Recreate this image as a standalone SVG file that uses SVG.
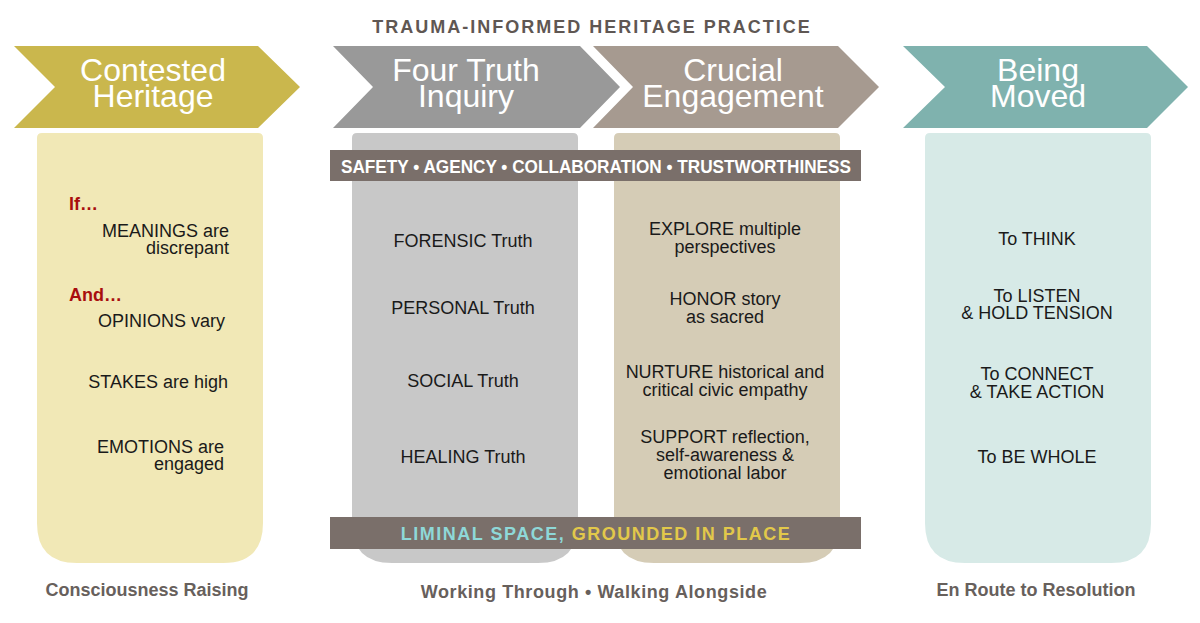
<svg xmlns="http://www.w3.org/2000/svg" width="1200" height="623" viewBox="0 0 1200 623">
<defs>
<style>
.chev-text{font-family:"Liberation Sans",Arial,sans-serif;font-size:32px;fill:#ffffff;text-anchor:middle}
.body{font-family:"Liberation Sans",Arial,sans-serif;font-size:18px;fill:#1a1a1a}
.mid{text-anchor:middle}
.end{text-anchor:end}
.red{font-family:"Liberation Sans",Arial,sans-serif;font-size:18px;font-weight:bold;fill:#a80e0e}
.cap{font-family:"Liberation Sans",Arial,sans-serif;font-size:18px;font-weight:bold;fill:#67605c;text-anchor:middle}
.band{fill:#7a6f6a}
</style>
</defs>
<rect width="1200" height="623" fill="#ffffff"/>
<text x="592" y="33" font-family="Liberation Sans, Arial, sans-serif" font-size="18" font-weight="bold" fill="#5f5753" text-anchor="middle" letter-spacing="2">TRAUMA-INFORMED HERITAGE PRACTICE</text>

<g id="panels">
<path id="panel1" d="M42,133 H258 Q263,133 263,138 V523 Q263,563 223,563 H77 Q37,563 37,523 V138 Q37,133 42,133 Z" fill="#f1e8b6"/>
<path id="panel2" d="M357,133 H573 Q578,133 578,138 V523 Q578,563 538,563 H392 Q352,563 352,523 V138 Q352,133 357,133 Z" fill="#c8c8c8"/>
<path id="panel3" d="M619,133 H835 Q840,133 840,138 V523 Q840,563 800,563 H654 Q614,563 614,523 V138 Q614,133 619,133 Z" fill="#d5ccb6"/>
<path id="panel4" d="M930,133 H1146 Q1151,133 1151,138 V523 Q1151,563 1111,563 H965 Q925,563 925,523 V138 Q925,133 930,133 Z" fill="#d7eae7"/>
</g>

<g id="chevron1">
<polygon points="14,46 258,46 300,87 258,128 14,128 55,87" fill="#cab74d"/>
<text class="chev-text"><tspan x="153" y="81">Contested</tspan><tspan x="153" y="107">Heritage</tspan></text>
</g>
<g id="chevron2">
<polygon points="333,46 580,46 620,87 580,128 333,128 373,87" fill="#999999"/>
<text class="chev-text"><tspan x="466" y="81">Four Truth</tspan><tspan x="466" y="107">Inquiry</tspan></text>
</g>
<g id="chevron3">
<polygon points="593,46 838,46 879,87 838,128 593,128 633,87" fill="#a69a90"/>
<text class="chev-text"><tspan x="733" y="81">Crucial</tspan><tspan x="733" y="107">Engagement</tspan></text>
</g>
<g id="chevron4">
<polygon points="903,46 1147,46 1188,87 1147,128 903,128 945,87" fill="#7fb2ae"/>
<text class="chev-text"><tspan x="1038" y="81">Being</tspan><tspan x="1038" y="107">Moved</tspan></text>
</g>

<g id="col1-text">
<text class="red" x="69" y="210">If…</text>
<text class="body end" x="229" y="237">MEANINGS are</text>
<text class="body end" x="229" y="254">discrepant</text>
<text class="red" x="69" y="301">And…</text>
<text class="body end" x="225" y="327">OPINIONS vary</text>
<text class="body end" x="228" y="388">STAKES are high</text>
<text class="body end" x="224" y="453">EMOTIONS are</text>
<text class="body end" x="224" y="470">engaged</text>
</g>

<g id="col2-text">
<text class="body mid" x="463" y="247">FORENSIC Truth</text>
<text class="body mid" x="463" y="314">PERSONAL Truth</text>
<text class="body mid" x="463" y="387">SOCIAL Truth</text>
<text class="body mid" x="463" y="463">HEALING Truth</text>
</g>

<g id="col3-text">
<text class="body mid" x="725" y="235">EXPLORE multiple</text>
<text class="body mid" x="725" y="253">perspectives</text>
<text class="body mid" x="725" y="305">HONOR story</text>
<text class="body mid" x="725" y="323">as sacred</text>
<text class="body mid" x="725" y="378">NURTURE historical and</text>
<text class="body mid" x="725" y="396">critical civic empathy</text>
<text class="body mid" x="725" y="443">SUPPORT reflection,</text>
<text class="body mid" x="725" y="461">self-awareness &amp;</text>
<text class="body mid" x="725" y="479">emotional labor</text>
</g>

<g id="col4-text">
<text class="body mid" x="1037" y="245">To THINK</text>
<text class="body mid" x="1037" y="302">To LISTEN</text>
<text class="body mid" x="1037" y="319">&amp; HOLD TENSION</text>
<text class="body mid" x="1037" y="380">To CONNECT</text>
<text class="body mid" x="1037" y="398">&amp; TAKE ACTION</text>
<text class="body mid" x="1037" y="463">To BE WHOLE</text>
</g>

<g id="band-principles">
<rect class="band" x="330" y="150" width="531" height="31"/>
<text x="596" y="173" font-family="Liberation Sans, Arial, sans-serif" font-size="18" font-weight="bold" fill="#ffffff" text-anchor="middle" textLength="510" lengthAdjust="spacingAndGlyphs">SAFETY • AGENCY • COLLABORATION • TRUSTWORTHINESS</text>
</g>

<g id="band-liminal">
<rect class="band" x="330" y="517" width="531" height="32"/>
<text x="596" y="540" font-family="Liberation Sans, Arial, sans-serif" font-size="18" font-weight="bold" text-anchor="middle" letter-spacing="1.5"><tspan fill="#8ed8d8">LIMINAL SPACE,</tspan> <tspan fill="#e2c84a">GROUNDED IN PLACE</tspan></text>
</g>

<g id="captions">
<text class="cap" x="147" y="596">Consciousness Raising</text>
<text class="cap" x="594" y="598" letter-spacing="0.6">Working Through • Walking Alongside</text>
<text class="cap" x="1036" y="596">En Route to Resolution</text>
</g>
<g id="connectors"></g>
</svg>
